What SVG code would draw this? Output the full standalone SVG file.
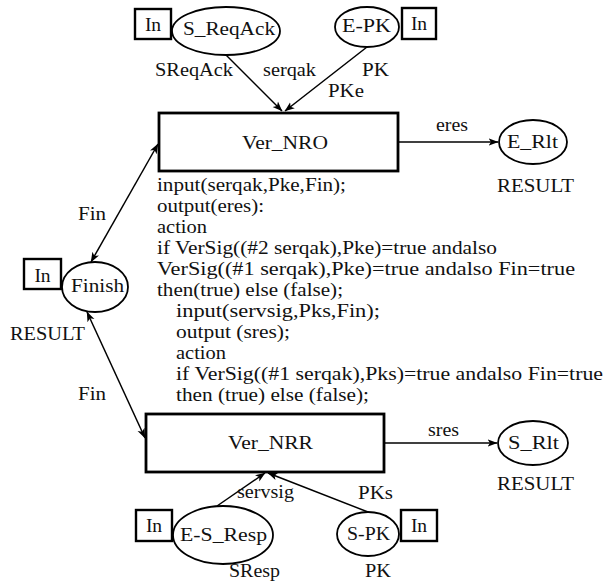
<svg xmlns="http://www.w3.org/2000/svg" width="614" height="583" viewBox="0 0 614 583" font-family="'Liberation Serif', 'Times New Roman', serif">
<defs>
<marker id="ah" viewBox="0 0 10 10" refX="9.5" refY="5" markerWidth="10" markerHeight="10" markerUnits="userSpaceOnUse" orient="auto-start-reverse">
<path d="M0,1.2 L10,5 L0,8.8 L2.5,5 Z" fill="#000"/>
</marker>
</defs>
<style>
text{font-family:'Liberation Serif','Times New Roman',serif;font-size:19.5px;fill:#111}
.box{fill:#fff;stroke:#000;stroke-width:2.8}
.inb{fill:#fff;stroke:#000;stroke-width:2.4}
.pl{fill:#fff;stroke:#000;stroke-width:1.8}
.c{stroke:#000;stroke-width:1.5;fill:none;marker-end:url(#ah)}
.d{stroke:#000;stroke-width:1.5;fill:none;marker-end:url(#ah);marker-start:url(#ah)}
.m{text-anchor:middle}
</style>
<g id="connectors">
<line class="c" x1="226" y1="55" x2="282" y2="111"/>
<line class="c" x1="367" y1="47" x2="285" y2="111"/>
<line class="c" x1="398" y1="142" x2="498" y2="142"/>
<line class="d" x1="91" y1="262" x2="158" y2="144"/>
<line class="d" x1="87" y1="312" x2="145" y2="438"/>
<line class="c" x1="384" y1="443" x2="497" y2="443"/>
<line class="c" x1="217" y1="506" x2="265" y2="473"/>
<line class="c" x1="368" y1="512" x2="268" y2="473"/>
<text x="155" y="76" textLength="78" lengthAdjust="spacingAndGlyphs">SReqAck</text>
<text x="263" y="76" textLength="53" lengthAdjust="spacingAndGlyphs">serqak</text>
<text x="362" y="76" textLength="27" lengthAdjust="spacingAndGlyphs">PK</text>
<text x="328" y="97" textLength="36" lengthAdjust="spacingAndGlyphs">PKe</text>
<text x="436" y="131" textLength="32" lengthAdjust="spacingAndGlyphs">eres</text>
<text x="78" y="220" textLength="28" lengthAdjust="spacingAndGlyphs">Fin</text>
<text x="78" y="400" textLength="28" lengthAdjust="spacingAndGlyphs">Fin</text>
<text x="428" y="436" textLength="31" lengthAdjust="spacingAndGlyphs">sres</text>
<text x="237" y="498" textLength="57" lengthAdjust="spacingAndGlyphs">servsig</text>
<text x="358" y="499" textLength="35" lengthAdjust="spacingAndGlyphs">PKs</text>
</g>
<g id="in_sreqack">
<rect class="inb" x="135" y="9" width="36" height="30"/>
<text x="153" y="31" class="m">In</text>
</g>
<g id="s_reqack">
<ellipse class="pl" cx="226" cy="31" rx="54" ry="24"/>
<text x="183" y="35" textLength="92" lengthAdjust="spacingAndGlyphs">S_ReqAck</text>
</g>
<g id="e_pk">
<ellipse class="pl" cx="367" cy="27" rx="32" ry="20"/>
<text x="342" y="32" textLength="49" lengthAdjust="spacingAndGlyphs">E-PK</text>
</g>
<g id="in_epk">
<rect class="inb" x="402" y="8" width="34" height="31"/>
<text x="419" y="30" class="m">In</text>
</g>
<g id="ver_nro">
<rect class="box" x="159" y="113" width="239" height="58"/>
<text x="242" y="149" textLength="86" lengthAdjust="spacingAndGlyphs">Ver_NRO</text>
</g>
<g id="e_rlt">
<ellipse class="pl" cx="533" cy="142" rx="34" ry="22"/>
<text x="507" y="148" textLength="51" lengthAdjust="spacingAndGlyphs">E_Rlt</text>
<text x="497" y="192" textLength="77" lengthAdjust="spacingAndGlyphs">RESULT</text>
</g>
<g id="code">
<text x="157" y="191" textLength="189" lengthAdjust="spacingAndGlyphs">input(serqak,Pke,Fin);</text>
<text x="157" y="212" textLength="107" lengthAdjust="spacingAndGlyphs">output(eres):</text>
<text x="157" y="233" textLength="50" lengthAdjust="spacingAndGlyphs">action</text>
<text x="157" y="254" textLength="340" lengthAdjust="spacingAndGlyphs">if VerSig((#2 serqak),Pke)=true andalso</text>
<text x="157" y="275" textLength="418" lengthAdjust="spacingAndGlyphs">VerSig((#1 serqak),Pke)=true andalso Fin=true</text>
<text x="157" y="296" textLength="186" lengthAdjust="spacingAndGlyphs">then(true) else (false);</text>
<text x="176" y="317" textLength="204" lengthAdjust="spacingAndGlyphs">input(servsig,Pks,Fin);</text>
<text x="176" y="338" textLength="114" lengthAdjust="spacingAndGlyphs">output (sres);</text>
<text x="176" y="359" textLength="50" lengthAdjust="spacingAndGlyphs">action</text>
<text x="176" y="380" textLength="427" lengthAdjust="spacingAndGlyphs">if VerSig((#1 serqak),Pks)=true andalso Fin=true</text>
<text x="176" y="401" textLength="193" lengthAdjust="spacingAndGlyphs">then (true) else (false);</text>
</g>
<g id="in_finish">
<rect class="inb" x="24" y="259" width="37" height="30"/>
<text x="42.5" y="282" class="m">In</text>
</g>
<g id="finish">
<ellipse class="pl" cx="95" cy="287" rx="33" ry="25"/>
<text x="71" y="292" textLength="53" lengthAdjust="spacingAndGlyphs">Finish</text>
<text x="10" y="340" textLength="75" lengthAdjust="spacingAndGlyphs">RESULT</text>
</g>
<g id="ver_nrr">
<rect class="box" x="146" y="414" width="238" height="58"/>
<text x="228" y="449" textLength="85" lengthAdjust="spacingAndGlyphs">Ver_NRR</text>
</g>
<g id="s_rlt">
<ellipse class="pl" cx="533" cy="443" rx="35" ry="22"/>
<text x="508" y="449" textLength="51" lengthAdjust="spacingAndGlyphs">S_Rlt</text>
<text x="497" y="490" textLength="77" lengthAdjust="spacingAndGlyphs">RESULT</text>
</g>
<g id="in_esresp">
<rect class="inb" x="136" y="510" width="36" height="31"/>
<text x="154" y="532" class="m">In</text>
</g>
<g id="e_s_resp">
<ellipse class="pl" cx="223" cy="535" rx="50" ry="29"/>
<text x="180" y="541" textLength="87" lengthAdjust="spacingAndGlyphs">E-S_Resp</text>
<text x="229" y="577" textLength="51" lengthAdjust="spacingAndGlyphs">SResp</text>
</g>
<g id="s_pk">
<ellipse class="pl" cx="368" cy="534" rx="31" ry="22"/>
<text x="347" y="540" textLength="43" lengthAdjust="spacingAndGlyphs">S-PK</text>
<text x="365" y="577" textLength="26" lengthAdjust="spacingAndGlyphs">PK</text>
</g>
<g id="in_spk">
<rect class="inb" x="401" y="510" width="36" height="31"/>
<text x="419" y="532" class="m">In</text>
</g>
</svg>
